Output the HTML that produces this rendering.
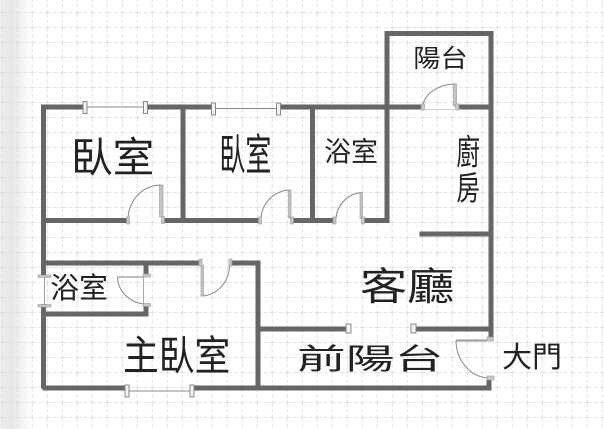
<!DOCTYPE html>
<html>
<head>
<meta charset="utf-8">
<style>
html,body{margin:0;padding:0;background:#fff;width:604px;height:429px;overflow:hidden}
svg{display:block}
text{font-family:"Liberation Sans","Noto Sans CJK TC",sans-serif;fill:#222;font-size:40px}
.w{stroke:#666;stroke-width:5;fill:none;stroke-linecap:square}
.a{stroke:#888;stroke-width:1;fill:none}
.l{fill:#c4c4c4;stroke:#999;stroke-width:.6}
.t{fill:#f2f2f2;stroke:#888;stroke-width:1}
.m{fill:#c8c8c8;stroke:#999;stroke-width:.6}
</style>
</head>
<body>
<svg width="604" height="429" viewBox="0 0 604 429" xmlns="http://www.w3.org/2000/svg">
<defs>
<linearGradient id="f" x1="0" x2="1" y1="0" y2="0">
<stop offset="0" stop-color="#f0f0f0"/>
<stop offset=".35" stop-color="#e6e6e6"/>
<stop offset="1" stop-color="#fff"/>
</linearGradient>
<pattern id="g" width="15" height="15" patternUnits="userSpaceOnUse" x="2.5" y="-2">
<path d="M0 15H15M15 0V15" stroke="#d6d6d6" stroke-width="1.300" stroke-dasharray="4 2" fill="none"/>
</pattern>
</defs>
<rect width="604" height="429" fill="#fff"/>
<rect width="32" height="429" fill="url(#f)"/>
<rect width="604" height="429" fill="url(#g)"/>

<!-- walls -->
<path class="w" d="M43.5 108V386M43.5 107H83M148 107H212M280 107H420M459 107H489"/>
<path class="w" d="M183 107V220M312.500 107V220M387 220V33.500H491V338"/>
<path class="w" d="M45 220.500H126M167 220.500H259M293 220.500H333M366 220.500H387"/>
<path class="w" d="M422 234H489"/>
<path class="w" d="M45 263H198M233 263H258V386"/>
<path class="w" d="M146 265V273M146 307V314H45"/>
<path class="w" d="M260 329H346M418 329H489"/>
<path class="w" d="M45 388H124M195 388H489V382"/>

<!-- clear wall gaps for windows -->
<rect x="41" y="277" width="5" height="27" fill="#fff"/>

<!-- windows -->
<path d="M86 107H145" stroke="#888" stroke-width="1"/>
<rect class="t" x="83" y="101.500" width="4" height="12"/>
<rect class="t" x="143.500" y="101.500" width="4" height="12"/>
<path d="M214 108.500H278" stroke="#888" stroke-width="1"/>
<rect class="t" x="211.500" y="103" width="4" height="12"/>
<rect class="t" x="276.500" y="103" width="4" height="12"/>
<path d="M128 391H192" stroke="#888" stroke-width="1"/>
<rect class="t" x="125" y="385" width="4" height="12"/>
<rect class="t" x="190" y="385" width="4" height="12"/>
<path d="M44.500 275V305" stroke="#999" stroke-width="1"/>
<rect class="m" x="38" y="275" width="13" height="2.500"/>
<rect class="m" x="38" y="304.500" width="13" height="2.500"/>
<rect class="t" x="346" y="324" width="5" height="9"/>
<rect class="t" x="411" y="324" width="5" height="9"/>

<!-- doors -->
<path class="a" d="M160.500 185A33 35 0 0 0 128 218"/>
<rect class="l" x="159.500" y="185" width="3.500" height="32"/>
<rect class="m" x="126.500" y="217" width="3" height="7"/>
<rect class="m" x="161.500" y="216.500" width="3" height="7"/>

<path class="a" d="M290 190A30 30 0 0 0 261 218"/>
<rect class="l" x="288.500" y="190" width="2.500" height="28"/>
<rect class="m" x="258.500" y="217" width="3" height="7"/>
<rect class="m" x="290.500" y="217" width="3" height="7"/>

<path class="a" d="M361.500 192.500A28 28 0 0 0 336 218"/>
<rect class="l" x="360" y="192.500" width="2.500" height="26"/>
<rect class="m" x="333" y="217" width="3" height="7"/>
<rect class="m" x="361.500" y="217" width="3" height="7"/>

<path class="a" d="M455 84A33 24 0 0 0 423 105"/>
<rect class="l" x="453.500" y="84" width="3" height="22"/>
<rect class="m" x="421" y="104" width="3.500" height="6"/>
<rect class="m" x="455.500" y="104" width="3.500" height="6"/>
<path d="M424 109.500H456" stroke="#ccc" stroke-width="1"/>

<path class="a" d="M202.500 296A29 31 0 0 0 229.500 265"/>
<rect class="l" x="201" y="265" width="2.500" height="31"/>
<rect class="m" x="199" y="259" width="3" height="7"/>
<rect class="m" x="229" y="259" width="3" height="7"/>

<path class="a" d="M117.500 277A29 28 0 0 0 145 304"/>
<path d="M117.500 277H144" stroke="#999" stroke-width="1.200" fill="none"/>
<path d="M143.500 277V304" stroke="#aaa" stroke-width="1" fill="none"/>
<rect class="m" x="143" y="274" width="7.500" height="3"/>
<rect class="m" x="143" y="303.500" width="7.500" height="3"/>

<path class="a" d="M456 340.500A34 38 0 0 0 488 378"/>
<path d="M456 340.500H487" stroke="#999" stroke-width="2" fill="none"/>
<rect class="m" x="487" y="337" width="6.500" height="4"/>
<rect class="m" x="487" y="376" width="7" height="4"/>

<!-- labels -->
<text transform="translate(71 172) scale(1.04 1.03)">臥室</text>
<text transform="translate(219.400 170) scale(.65 1.08)">臥室</text>
<text transform="translate(324.300 161) scale(.67 .68)">浴室</text>
<text transform="translate(413.300 67) scale(.68 .62)">陽台</text>
<text transform="translate(456.400 164.400) scale(.59 .86)">廚</text>
<text transform="translate(456.400 199.600) scale(.59 .81)">房</text>
<text transform="translate(360 300) scale(1.18 .97)">客廳</text>
<text transform="translate(50.300 297.800) scale(.72 .73)">浴室</text>
<text transform="translate(123 370) scale(.894 1.03)">主臥室</text>
<text transform="translate(297 369) scale(1.22 .73)">前陽台</text>
<text transform="translate(502 367) scale(.75 .73)">大門</text>
</svg>
</body>
</html>
